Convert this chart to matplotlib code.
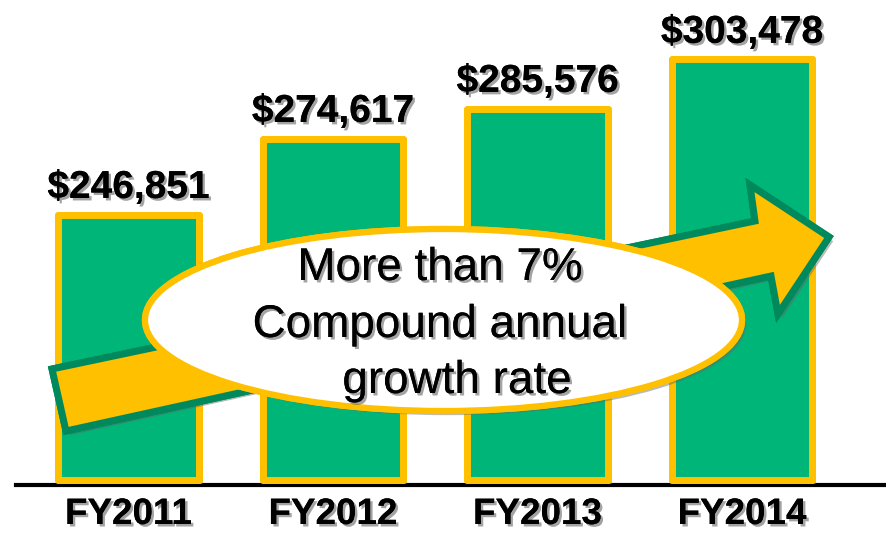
import matplotlib.pyplot as plt
import matplotlib.patheffects as pe
from matplotlib.patches import Ellipse, Polygon

years = ['FY2011', 'FY2012', 'FY2013', 'FY2014']
amounts = [246851, 274617, 285576, 303478]
labels = ['$246,851', '$274,617', '$285,576', '$303,478']
note = ['More than 7%', 'Compound annual', 'growth rate']

green = '#00B578'
gold = '#FFC000'
dark = '#00895C'

plt.rcParams['font.family'] = ['Liberation Sans', 'DejaVu Sans']

fig = plt.figure(figsize=(8.87, 5.33), dpi=100)
ax = fig.add_axes([0, 0, 1, 1])
ax.axis('off')

base = 150000
k = 0.00274  # px per dollar
ax.set_xlim(-128.5 / 204.5, (887 - 128.5) / 204.5)
ax.set_ylim(base - 53 / k, base + 480 / k)

shadow = [pe.withSimplePatchShadow(offset=(3, -3), shadow_rgbFace='#666666', alpha=0.45), pe.Normal()]
tshadow = [pe.withSimplePatchShadow(offset=(1.8, -1.8), shadow_rgbFace='#666666', alpha=0.6), pe.Normal()]

ax.axhline(base - 5 / k, xmin=16 / 887, xmax=885 / 887, color='black', lw=3, zorder=1)

x = range(len(years))
bars = ax.bar(x, [a - base for a in amounts], bottom=base, width=0.685,
              color=green, edgecolor=gold, linewidth=5, zorder=2)
for b in bars:
    b.set_joinstyle('round')
    b.set_path_effects(shadow)

for i, a in enumerate(amounts):
    ax.annotate(labels[i], (i, a), xytext=(0, 12), textcoords='offset points',
                ha='center', va='baseline', fontsize=28, fontweight='bold',
                path_effects=tshadow, zorder=5)
    ax.text(i, 9 / 533, years[i], transform=ax.get_xaxis_transform(),
            ha='center', va='baseline', fontsize=26.5, fontweight='bold',
            path_effects=tshadow)

# overlay in pixel coords for the arrow + ellipse
ov = fig.add_axes([0, 0, 1, 1])
ov.set_xlim(0, 887)
ov.set_ylim(533, 0)
ov.axis('off')

arrow = Polygon([(52, 369), (755, 221), (750, 185), (829, 237), (778, 314),
                 (771, 276), (66, 431)], closed=True, facecolor=gold,
                edgecolor=dark, linewidth=5, joinstyle='miter', zorder=3)
arrow.set_path_effects([pe.withSimplePatchShadow(offset=(3, -3), shadow_rgbFace='#666666', alpha=0.45), pe.Normal()])
ov.add_patch(arrow)

ell = Ellipse((443.5, 320), 597, 182, facecolor='white', edgecolor=gold,
              linewidth=4.5, zorder=4)
ell.set_path_effects([pe.withSimplePatchShadow(offset=(3, -3), shadow_rgbFace='#666666', alpha=0.45), pe.Normal()])
ov.add_patch(ell)

for t, cx, by in zip(note, [440, 440, 457], [280, 337, 393]):
    ov.text(cx, by, t, ha='center', va='baseline', fontsize=33,
            path_effects=tshadow, zorder=5)

fig.savefig('out.png', dpi=100)
